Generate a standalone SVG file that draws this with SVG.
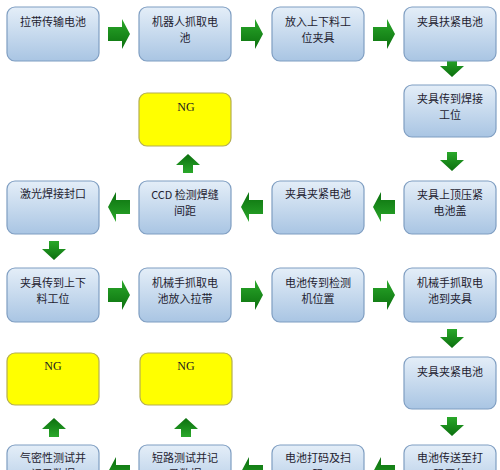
<svg xmlns="http://www.w3.org/2000/svg" width="500" height="470" viewBox="0 0 500 470">
<defs>
<linearGradient id="gb" x1="0" y1="0" x2="0" y2="1">
<stop offset="0" stop-color="#e4eef8"/>
<stop offset="1" stop-color="#a9c5e3"/>
</linearGradient>
<linearGradient id="gg" x1="0" y1="0" x2="0" y2="1">
<stop offset="0" stop-color="#2aa82a"/>
<stop offset="1" stop-color="#0b6f0e"/>
</linearGradient>
<path id="ah" d="M-11,-7 H3 V-15 L11,0 L3,15 V7 H-11 Z"/>
<path id="av" d="M-5,-10 H5 V-2 H12 L0,9 L-12,-2 H-5 Z"/>
<style>
.box{fill:url(#gb);stroke:#7f9ec2;stroke-width:1.2}
.ng{fill:#ffff00;stroke:#b4ae52;stroke-width:1.2}
.t{font-family:"Noto Sans CJK SC","Liberation Sans",sans-serif;font-size:11px;fill:#1e2230;text-anchor:middle}
.n{font-family:"Liberation Serif",serif;font-size:12px;fill:#222;text-anchor:middle}
.arr use{fill:url(#gg)}
</style>
</defs>
<rect width="500" height="470" fill="#ffffff"/>

<g id="connectors" class="arr">
<use href="#ah" transform="translate(119,34)"/>
<use href="#ah" transform="translate(252,34)"/>
<use href="#ah" transform="translate(384,34)"/>
<use href="#av" transform="translate(452,68)"/>
<use href="#av" transform="translate(452,162)"/>
<use href="#ah" transform="translate(384,207) rotate(180)"/>
<use href="#ah" transform="translate(252,207) rotate(180)"/>
<use href="#ah" transform="translate(119,207) rotate(180)"/>
<use href="#av" transform="translate(188,163) rotate(180)"/>
<use href="#av" transform="translate(54,251)"/>
<use href="#ah" transform="translate(119,295)"/>
<use href="#ah" transform="translate(252,295)"/>
<use href="#ah" transform="translate(384,295)"/>
<use href="#av" transform="translate(452,339)"/>
<use href="#av" transform="translate(452,427)"/>
<use href="#ah" transform="translate(384,472) rotate(180)"/>
<use href="#ah" transform="translate(252,472) rotate(180)"/>
<use href="#ah" transform="translate(119,472) rotate(180)"/>
<use href="#av" transform="translate(54,427) rotate(180)"/>
<use href="#av" transform="translate(186,427) rotate(180)"/>
</g>

<g id="n1"><rect class="box" x="7" y="7" width="92" height="54" rx="8"/><text class="t" x="53" y="26">拉带传输电池</text></g>
<g id="n2"><rect class="box" x="139" y="7" width="92" height="54" rx="8"/><text class="t" x="185" y="26">机器人抓取电<tspan x="185" dy="16">池</tspan></text></g>
<g id="n3"><rect class="box" x="272" y="7" width="92" height="54" rx="8"/><text class="t" x="318" y="26">放入上下料工<tspan x="318" dy="16">位夹具</tspan></text></g>
<g id="n4"><rect class="box" x="404" y="7" width="92" height="54" rx="8"/><text class="t" x="450" y="26">夹具扶紧电池</text></g>
<g id="n5"><rect class="box" x="404" y="85" width="92" height="52" rx="8"/><text class="t" x="450" y="103">夹具传到焊接<tspan x="450" dy="16">工位</tspan></text></g>
<g id="ng1"><rect class="ng" x="139" y="93" width="92" height="53" rx="8"/><text class="n" x="186" y="111">NG</text></g>
<g id="n6"><rect class="box" x="404" y="181" width="92" height="53" rx="8"/><text class="t" x="450" y="199">夹具上顶压紧<tspan x="450" dy="16">电池盖</tspan></text></g>
<g id="n7"><rect class="box" x="272" y="181" width="92" height="53" rx="8"/><text class="t" x="318" y="198">夹具夹紧电池</text></g>
<g id="n8"><rect class="box" x="139" y="181" width="92" height="53" rx="8"/><text class="t" x="185" y="199">CCD 检测焊缝<tspan x="185" dy="16">间距</tspan></text></g>
<g id="n9"><rect class="box" x="7" y="181" width="92" height="53" rx="8"/><text class="t" x="53" y="198">激光焊接封口</text></g>
<g id="n10"><rect class="box" x="7" y="268" width="92" height="54" rx="8"/><text class="t" x="53" y="287">夹具传到上下<tspan x="53" dy="16">料工位</tspan></text></g>
<g id="n11"><rect class="box" x="139" y="268" width="92" height="54" rx="8"/><text class="t" x="185" y="287">机械手抓取电<tspan x="185" dy="16">池放入拉带</tspan></text></g>
<g id="n12"><rect class="box" x="272" y="268" width="92" height="54" rx="8"/><text class="t" x="318" y="287">电池传到检测<tspan x="318" dy="16">机位置</tspan></text></g>
<g id="n13"><rect class="box" x="404" y="268" width="92" height="54" rx="8"/><text class="t" x="450" y="287">机械手抓取电<tspan x="450" dy="16">池到夹具</tspan></text></g>
<g id="n14"><rect class="box" x="404" y="357" width="92" height="52" rx="8"/><text class="t" x="450" y="376">夹具夹紧电池</text></g>
<g id="ng2"><rect class="ng" x="7" y="353" width="92" height="52" rx="8"/><text class="n" x="53" y="370">NG</text></g>
<g id="ng3"><rect class="ng" x="140" y="353" width="92" height="52" rx="8"/><text class="n" x="186" y="370">NG</text></g>
<g id="n15"><rect class="box" x="404" y="445" width="92" height="54" rx="8"/><text class="t" x="450" y="462">电池传送至打<tspan x="450" dy="16">码工位</tspan></text></g>
<g id="n16"><rect class="box" x="272" y="445" width="92" height="54" rx="8"/><text class="t" x="318" y="462">电池打码及扫<tspan x="318" dy="16">码</tspan></text></g>
<g id="n17"><rect class="box" x="139" y="445" width="92" height="54" rx="8"/><text class="t" x="185" y="462">短路测试并记<tspan x="185" dy="16">录数据</tspan></text></g>
<g id="n18"><rect class="box" x="7" y="445" width="92" height="54" rx="8"/><text class="t" x="53" y="462">气密性测试并<tspan x="53" dy="16">记录数据</tspan></text></g>
</svg>
